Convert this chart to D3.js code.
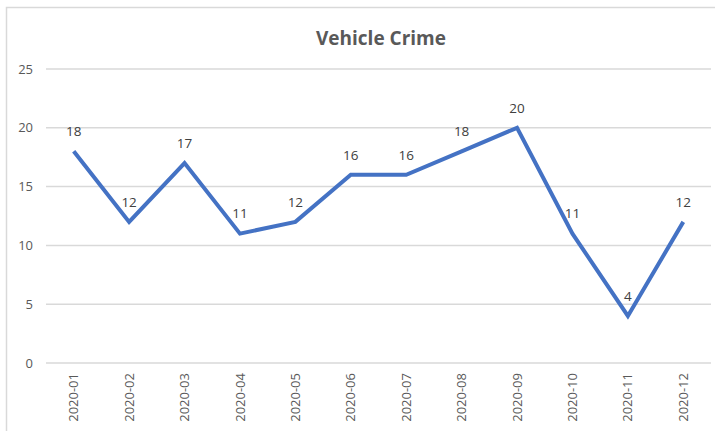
<!DOCTYPE html>
<html>
<head>
<meta charset="utf-8">
<script src="https://cdn.jsdelivr.net/npm/d3@7"></script>
<style>
body{margin:0;background:#fff;}
text{font-family:"Open Sans","Liberation Sans",sans-serif;}
</style>
</head>
<body>
<div id="chart"></div>
<script>
var w = 715;
var h = 431;

// data
var months = ["2020-01","2020-02","2020-03","2020-04","2020-05","2020-06",
              "2020-07","2020-08","2020-09","2020-10","2020-11","2020-12"];
var crimes = [18,12,17,11,12,16,16,18,20,11,4,12];
var yTicks = [0,5,10,15,20,25];

var plotLeft = 46, plotRight = 711, plotTop = 69, plotBottom = 363;

var svg = d3.select("#chart").append("svg")
    .attr("width", w)
    .attr("height", h);

// chart area frame
svg.append("rect")
    .attr("x", 6.5).attr("y", 7.5)
    .attr("width", 720).attr("height", 440)
    .attr("fill", "#fff")
    .attr("stroke", "#d9d9d9")
    .attr("stroke-width", 1.5);

var x = d3.scalePoint()
    .domain(months)
    .range([plotLeft, plotRight])
    .padding(0.5);

var y = d3.scaleLinear()
    .domain([0, 25])
    .range([plotBottom, plotTop]);

// gridlines
svg.selectAll("line.grid")
    .data(yTicks)
    .enter().append("line")
    .attr("class", "grid")
    .attr("x1", plotLeft).attr("x2", plotRight)
    .attr("y1", function(d){ return y(d); })
    .attr("y2", function(d){ return y(d); })
    .attr("stroke", "#d9d9d9")
    .attr("stroke-width", 1.5);

// y labels
svg.selectAll("text.ylab")
    .data(yTicks)
    .enter().append("text")
    .attr("class", "ylab")
    .attr("x", 33)
    .attr("y", function(d){ return y(d); })
    .attr("dy", "0.35em")
    .attr("text-anchor", "end")
    .attr("font-size", 13)
    .attr("fill", "#595959")
    .text(function(d){ return d; });

// x labels, rotated
svg.selectAll("text.xlab")
    .data(months)
    .enter().append("text")
    .attr("class", "xlab")
    .attr("transform", function(d){ return "translate(" + x(d) + ",373)rotate(-90)"; })
    .attr("dy", "0.35em")
    .attr("text-anchor", "end")
    .attr("font-size", 13)
    .attr("fill", "#595959")
    .text(function(d){ return d; });

// the line
var line = d3.line()
    .x(function(d, i){ return x(months[i]); })
    .y(function(d){ return y(d); });

svg.append("path")
    .datum(crimes)
    .attr("d", line)
    .attr("fill", "none")
    .attr("stroke", "#4472c4")
    .attr("stroke-width", 4)
    .attr("stroke-linejoin", "miter");

// data labels
svg.selectAll("text.val")
    .data(crimes)
    .enter().append("text")
    .attr("class", "val")
    .attr("x", function(d, i){ return x(months[i]); })
    .attr("y", function(d){ return y(d) - 20; })
    .attr("dy", "0.35em")
    .attr("text-anchor", "middle")
    .attr("font-size", 13.5)
    .attr("fill", "#404040")
    .text(function(d){ return d; });

// title
svg.append("text")
    .attr("x", 381)
    .attr("y", 38)
    .attr("dy", "0.35em")
    .attr("text-anchor", "middle")
    .attr("font-size", 19)
    .attr("font-weight", "bold")
    .attr("fill", "#595959")
    .text("Vehicle Crime");
</script>
</body>
</html>
